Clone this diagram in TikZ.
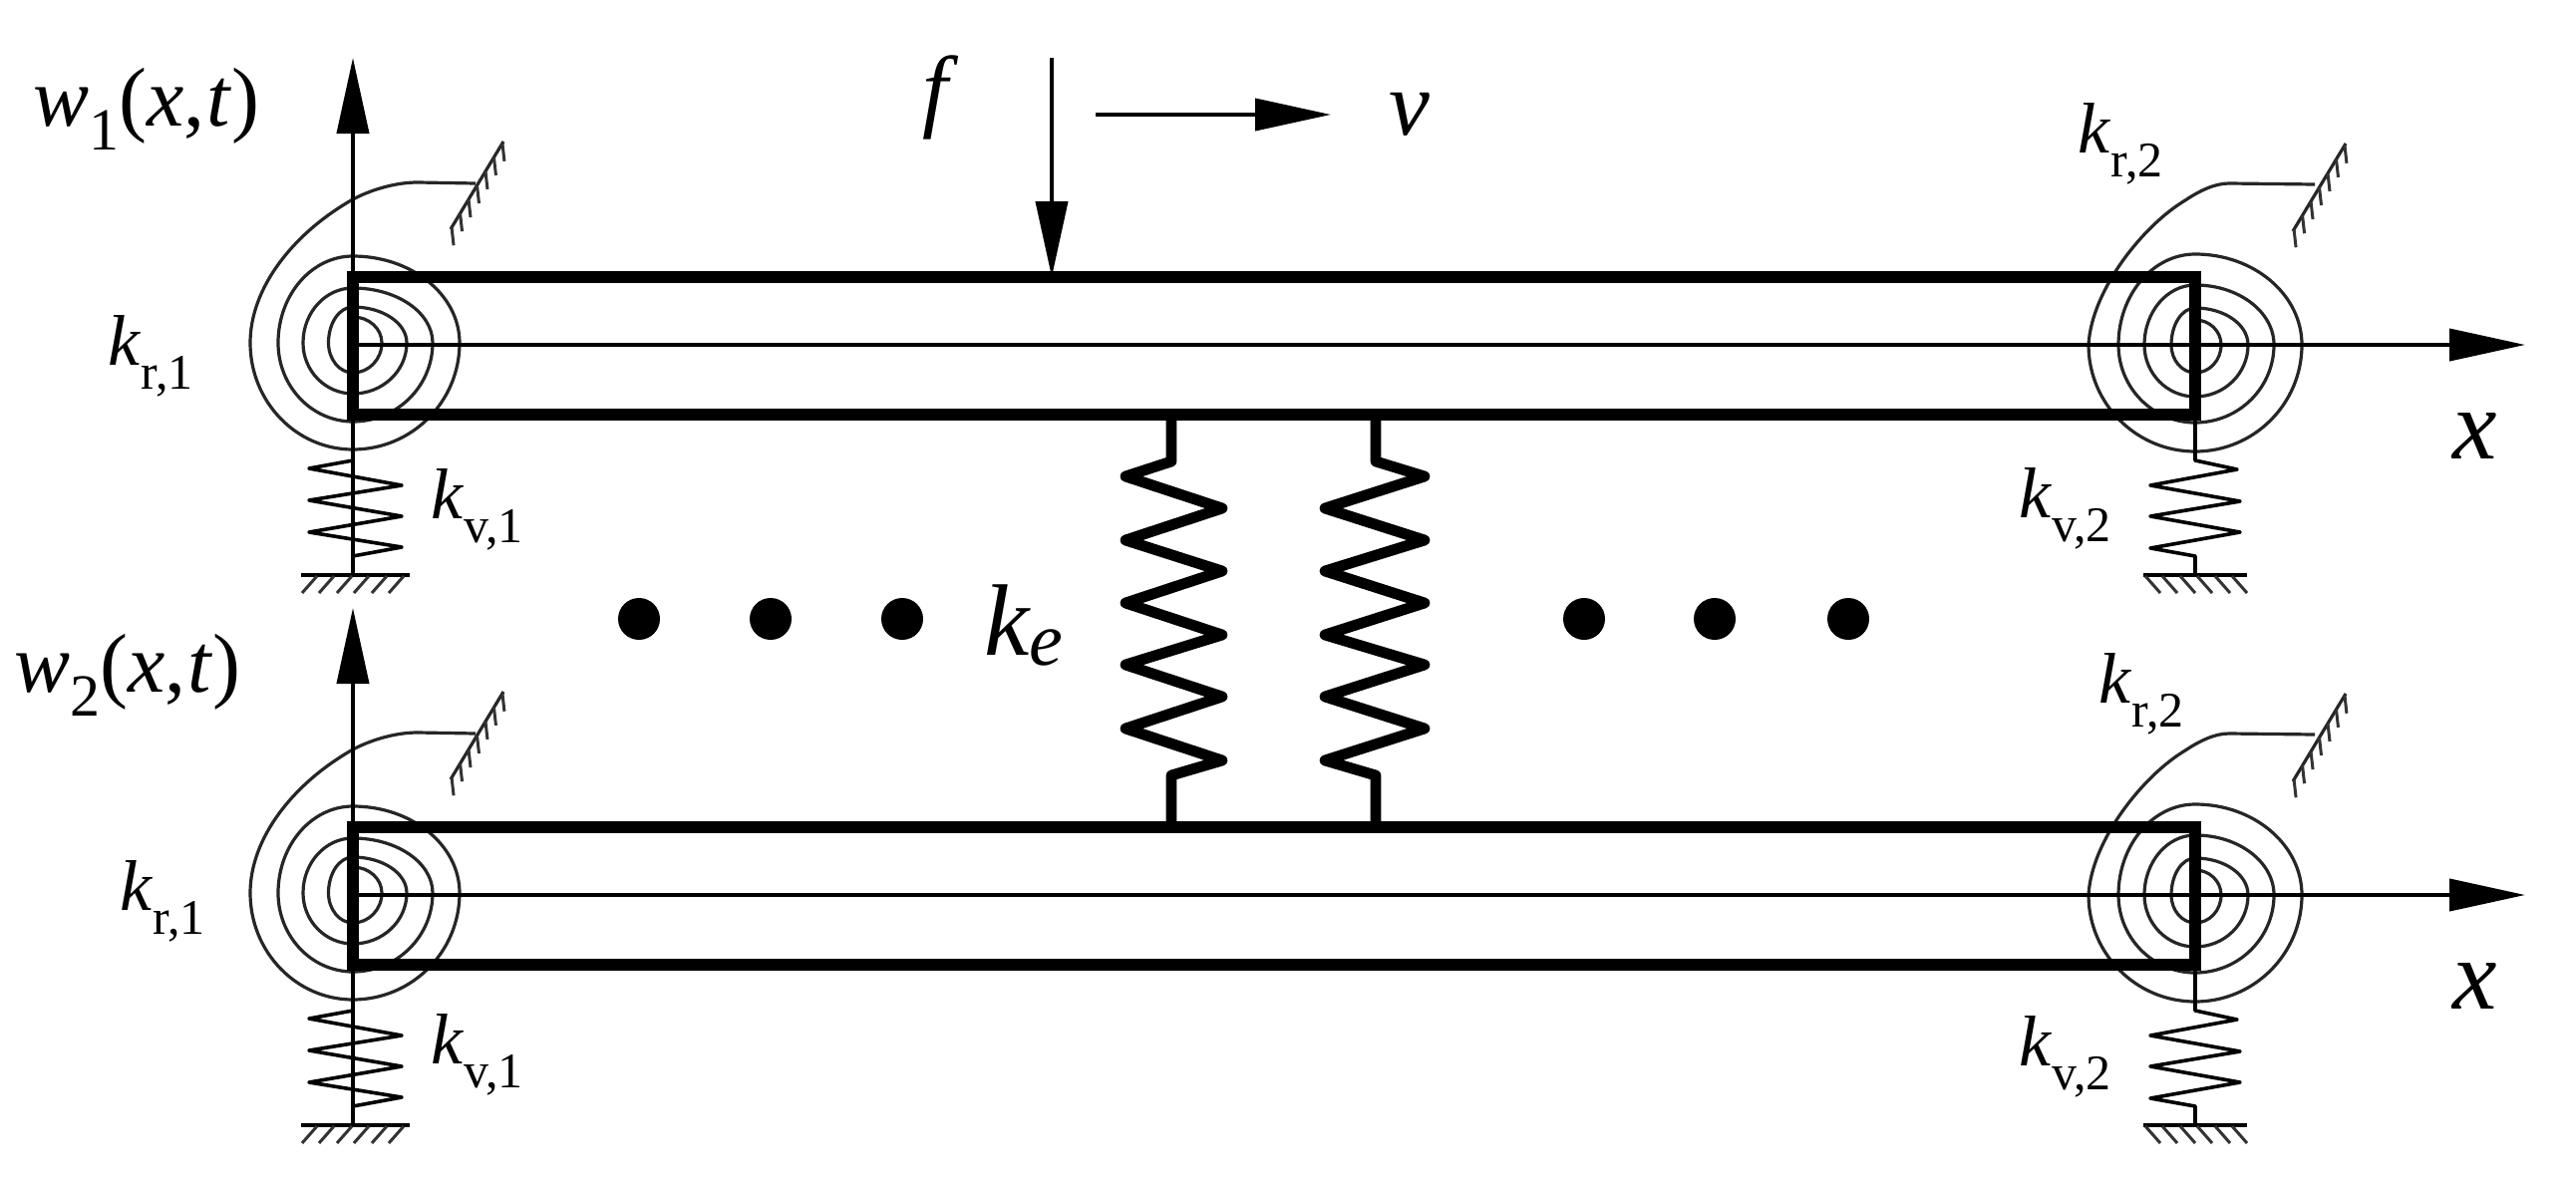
\documentclass[tikz,border=0pt]{standalone}
\usepackage{fontspec}
\setmainfont{Liberation Serif}
\usetikzlibrary{arrows.meta,calc}
\tikzset{
  thin line/.style={line width=1.8pt,black,line join=round},
  coil/.style={line width=1.6pt,black!85,line join=round},
  beam/.style={line width=6pt,black,line join=miter},
  stiff/.style={line width=5.4pt,black,line join=round},
  axis arrow/.style={line width=2pt,black,-{Triangle[length=38pt,width=16pt]}},
  hatch/.style={line width=1.5pt,black!80},
  lbl/.style={inner sep=0pt,anchor=base west,font=\fontsize{36}{36}\selectfont},
  big/.style={inner sep=0pt,anchor=base west,font=\fontsize{46}{46}\selectfont\itshape},
  xlabel/.style={inner sep=0pt,anchor=base west,font=\fontsize{50}{50}\selectfont\itshape},
  wlabel/.style={inner sep=0pt,anchor=base west,font=\fontsize{42}{42}\selectfont\itshape},
  dot/.style={fill=black,draw=none}
}
\newcommand{\ksub}[1]{\textit{k}\raisebox{-12pt}{\fontsize{25}{25}\selectfont #1}}
\newcommand{\qa}[3]{arc[start angle=#1,delta angle=90,x radius=#2,y radius=#3]}
% hatched wall at the end of a spiral spring
\newcommand{\wallmark}{%
  \draw[coil] (98,-114) -- (151,-202);
  \foreach \t in {0.02,0.18,0.34,0.50,0.66,0.82,0.98}
    \draw[hatch] ($(98,-114)!\t!(151,-202)$) -- ++(2,18);
}
\begin{document}
\begin{tikzpicture}[x=0.5pt,y=-0.5pt]
\useasboundingbox (0,0) rectangle (2584,1183);
\fill[white] (0,0) rectangle (2584,1183);

% two identical beam assemblies, second one 552 px lower
\foreach \yy/\nm in {0/one,276/two}{
\begin{scope}[yshift=-\yy pt]
  % left spiral spring
  \begin{scope}[shift={(354,344)}]
    \draw[coil] (0,-26) \qa{-90}{29}{26} \qa{0}{29}{30} \qa{90}{24.5}{30} \qa{180}{24.5}{36}
      \qa{-90}{54}{36} \qa{0}{54}{51} \qa{90}{50}{51} \qa{180}{50}{55}
      \qa{-90}{80}{55} \qa{0}{80}{79} \qa{90}{75}{79} \qa{180}{75}{87}
      \qa{-90}{107}{87} \qa{0}{107}{107} \qa{90}{103}{107}
      .. controls (-103,-55) and (-60,-110) .. (0,-144)
      .. controls (15,-152) and (40,-161) .. (65,-161) -- (123,-160);
    \wallmark
  \end{scope}
  % right spiral spring
  \begin{scope}[shift={(2202,346)}]
    \draw[coil] (0,-25) \qa{-90}{26}{25} \qa{0}{26}{28} \qa{90}{24}{28} \qa{180}{24}{37}
      \qa{-90}{53}{37} \qa{0}{53}{52} \qa{90}{51}{52} \qa{180}{51}{60}
      \qa{-90}{79}{60} \qa{0}{79}{78} \qa{90}{77}{78} \qa{180}{77}{91}
      \qa{-90}{107}{91} \qa{0}{107}{107} \qa{90}{107}{107}
      .. controls (-104,-55) and (-52,-120) .. (-10,-145)
      .. controls (5,-155) and (20,-162) .. (34,-162) -- (120,-161);
    \wallmark
  \end{scope}
  % vertical axis, left
  \draw[axis arrow] (354,577) -- (354,58);
  % axis x
  \coordinate (xs\nm) at (354,346);
  \coordinate (xe\nm) at (2533,346);
  \draw[axis arrow] (xs\nm) -- (xe\nm);
  % right support line
  \draw[thin line] (2202,346) -- (2202,462) -- (2244,471) -- (2157,487) -- (2247,503) -- (2157,518) -- (2247,534) -- (2157,550) -- (2202,558) -- (2202,577);
  % left small spring
  \draw[thin line] (354,462) -- (310,470) -- (403,487) -- (310,502) -- (403,518) -- (310,534) -- (403,549) -- (354,558) -- (354,577);
  % grounds
  \draw[thin line] (302,577) -- (411,577);
  \foreach \hx in {318,335,353,370,388,405}
    \draw[hatch] (\hx,578) -- ++(-15,17);
  \draw[thin line] (2150,577) -- (2254,577);
  \foreach \hx in {2152,2169,2187,2204,2222,2239}
    \draw[hatch] (\hx,578) -- ++(15,17);
  % beam
  \draw[beam] (354,278) rectangle (2202,416);
\end{scope}}

% stiffness springs between the beams
\draw[stiff] (1175,416) -- (1175,463) -- (1129,478) -- (1226,510) -- (1129,542) -- (1226,573) -- (1129,605) -- (1226,637) -- (1129,667) -- (1226,699) -- (1129,731) -- (1226,763) -- (1175,778) -- (1175,829);
\draw[stiff] (1380,416) -- (1380,463) -- (1429,478) -- (1329,510) -- (1429,542) -- (1329,573) -- (1429,605) -- (1329,637) -- (1429,667) -- (1329,699) -- (1429,731) -- (1329,763) -- (1380,778) -- (1380,829);

% dots
\foreach \dx/\nm in {641/a,773/b,905/c,1589/d,1720/e,1854/f}
  \fill[dot] (\dx,621) circle[radius=21];

% load and velocity
\coordinate (fs) at (1055,58);
\coordinate (fe) at (1055,278);
\coordinate (vs) at (1099,115);
\coordinate (ve) at (1335,115);
\draw[axis arrow] (fs) -- (fe);
\draw[axis arrow] (vs) -- (ve);

% labels
\node[wlabel] (w1) at (33,126) {w\raisebox{-12pt}{\fontsize{30}{30}\selectfont\upshape 1}\upshape(\textit{x},\kern1pt\textit{t})};
\node[wlabel] (w2) at (14,694) {w\raisebox{-12pt}{\fontsize{30}{30}\selectfont\upshape 2}\upshape(\textit{x},\kern1pt\textit{t})};
\node[big] (f) at (925,120) {f};
\node[big] (v) at (1393,135) {v};
\node[xlabel] (x1) at (2460,460) {x};
\node[xlabel] (x2) at (2460,1012) {x};
\node[lbl] (kr1) at (108,366) {\ksub{r,1}};
\node[lbl] (kr1b) at (120,913) {\ksub{r,1}};
\node[lbl] (kv1) at (432,520) {\ksub{v,1}};
\node[lbl] (kv1b) at (432,1067) {\ksub{v,1}};
\node[lbl] (kr2) at (2084,153) {\ksub{r,2}};
\node[lbl] (kr2b) at (2105,705) {\ksub{r,2}};
\node[lbl] (kv2) at (2025,519) {\ksub{v,2}};
\node[lbl] (kv2b) at (2025,1069) {\ksub{v,2}};
\node[inner sep=0pt,anchor=base west,font=\fontsize{51}{51}\selectfont\itshape] (ke) at (987,657) {k\raisebox{-5pt}{\fontsize{38}{38}\selectfont e}};
\end{tikzpicture}
\end{document}
